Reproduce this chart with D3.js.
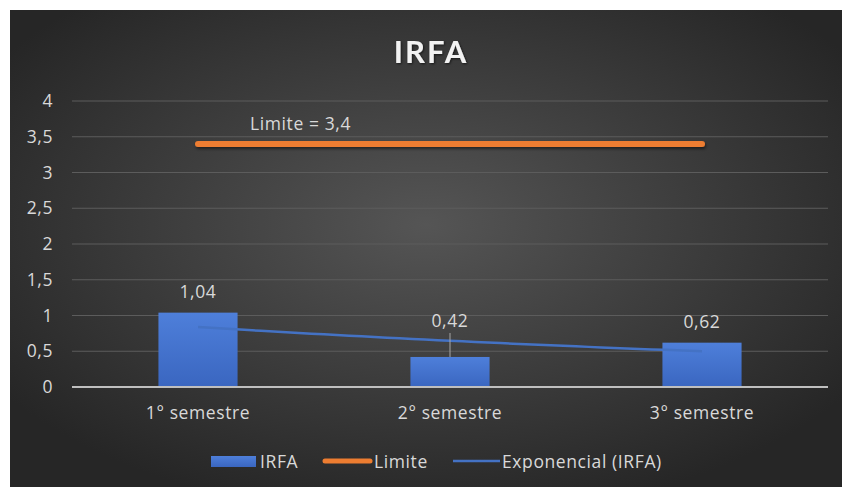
<!DOCTYPE html>
<html><head><meta charset="utf-8">
<script src="https://cdn.jsdelivr.net/npm/d3@7"></script>
<style>html,body{margin:0;padding:0;background:#fff;}svg{display:block;font-family:"Open Sans",Lato,sans-serif;}</style>
</head><body>
<svg id="c" width="842" height="487"></svg>
<script>
const categories = ["1° semestre", "2° semestre", "3° semestre"];
const irfaValues = [1.04, 0.42, 0.62];
const irfaLabels = ["1,04", "0,42", "0,62"];
const limitValue = 3.4;
const limitLabel = "Limite = 3,4";
const yTicks = [0, 0.5, 1, 1.5, 2, 2.5, 3, 3.5, 4];
const yTickLabels = ["0", "0,5", "1", "1,5", "2", "2,5", "3", "3,5", "4"];
const legendItems = ["IRFA", "Limite", "Exponencial (IRFA)"];
const title = "IRFA";

const FS = 17.5, LS = 0.6;
const svg = d3.select("#c");
const defs = svg.append("defs");
const bg = defs.append("radialGradient").attr("id","bg").attr("cx","50%").attr("cy","45%").attr("r","62%");
bg.append("stop").attr("offset","0%").attr("stop-color","#555555");
bg.append("stop").attr("offset","100%").attr("stop-color","#262626");
const bar = defs.append("linearGradient").attr("id","bar").attr("x1",0).attr("y1",0).attr("x2",0).attr("y2",1);
bar.append("stop").attr("offset","0%").attr("stop-color","#4e7fda");
bar.append("stop").attr("offset","100%").attr("stop-color","#3a66c0");
const sh = defs.append("filter").attr("id","sh").attr("filterUnits","userSpaceOnUse")
  .attr("x",0).attr("y",0).attr("width",842).attr("height",487);
sh.append("feDropShadow").attr("dx",1).attr("dy",2).attr("stdDeviation",1.5).attr("flood-color","#000").attr("flood-opacity",0.5);
const tsh = defs.append("filter").attr("id","tsh");
tsh.append("feDropShadow").attr("dx",1).attr("dy",1).attr("stdDeviation",1).attr("flood-color","#000").attr("flood-opacity",0.6);

svg.append("rect").attr("x",10).attr("y",10).attr("width",832).attr("height",477).attr("fill","url(#bg)");

const x = d3.scaleBand().domain(categories).range([72, 828]).paddingInner(0.686).paddingOuter(0.343);
const y = d3.scaleLinear().domain([0, 4]).range([387, 101]);

function txt(sel){ return sel.attr("fill","#d9d9d9").attr("font-size",FS).attr("letter-spacing",LS); }

// gridlines
svg.append("g").selectAll("line").data(yTicks.filter(d=>d>0)).join("line")
  .attr("x1",72).attr("x2",828).attr("y1",d=>y(d)).attr("y2",d=>y(d))
  .attr("stroke","#5c5c5c").attr("stroke-width",1);

// y tick labels
txt(svg.append("g").selectAll("text").data(yTicks).join("text")
  .attr("x",53).attr("y",d=>y(d)).attr("dy","0.35em").attr("text-anchor","end"))
  .text((d,i)=>yTickLabels[i]);

// bars
svg.append("g").selectAll("rect").data(irfaValues).join("rect")
  .attr("x",(d,i)=>x(categories[i])).attr("width",x.bandwidth())
  .attr("y",d=>y(d)).attr("height",d=>y(0)-y(d)).attr("fill","url(#bar)");

// axis line
svg.append("line").attr("x1",72).attr("x2",828).attr("y1",y(0)).attr("y2",y(0))
  .attr("stroke","#bfbfbf").attr("stroke-width",2);

// x labels
txt(svg.append("g").selectAll("text").data(categories).join("text")
  .attr("x",d=>x(d)+x.bandwidth()/2).attr("y",419).attr("text-anchor","middle"))
  .text(d=>d);

// exponential trend (least squares on ln(y))
const n = irfaValues.length;
const xs = irfaValues.map((d,i)=>i+1);
const ls = irfaValues.map(Math.log);
const mx = d3.mean(xs), ml = d3.mean(ls);
const b = d3.sum(xs.map((v,i)=>(v-mx)*(ls[i]-ml))) / d3.sum(xs.map(v=>(v-mx)*(v-mx)));
const a = ml - b*mx;
const tx = d3.scaleLinear().domain([1, n]).range([x(categories[0])+x.bandwidth()/2, x(categories[n-1])+x.bandwidth()/2]);
const trendPts = d3.range(0, 41).map(k => 1 + k*(n-1)/40);
svg.append("path").datum(trendPts)
  .attr("d", d3.line().x(t=>tx(t)).y(t=>y(Math.exp(a+b*t))))
  .attr("fill","none").attr("stroke","#4472c4").attr("stroke-width",2.5);

// limit line
svg.append("line")
  .attr("x1",x(categories[0])+x.bandwidth()/2).attr("x2",x(categories[2])+x.bandwidth()/2)
  .attr("y1",y(limitValue)).attr("y2",y(limitValue))
  .attr("stroke","#ed7d31").attr("stroke-width",6).attr("stroke-linecap","round").attr("filter","url(#sh)");
txt(svg.append("text").attr("x",250).attr("y",y(limitValue)-14)).text(limitLabel);

// data labels
const labelOffsets = [15, 30, 15];
txt(svg.append("g").selectAll("text").data(irfaValues).join("text")
  .attr("x",(d,i)=>x(categories[i])+x.bandwidth()/2).attr("y",(d,i)=>y(d)-labelOffsets[i])
  .attr("text-anchor","middle")).text((d,i)=>irfaLabels[i]);
// leader line for second label
svg.append("line").attr("x1",x(categories[1])+x.bandwidth()/2).attr("x2",x(categories[1])+x.bandwidth()/2)
  .attr("y1",y(irfaValues[1])-24).attr("y2",y(irfaValues[1]))
  .attr("stroke","#a6a6a6").attr("stroke-width",1);

// title
svg.append("text").attr("x",431).attr("y",63).attr("text-anchor","middle").attr("fill","#f2f2f2")
  .attr("font-family","Lato,sans-serif")
  .attr("font-size",31).attr("font-weight","bold").attr("letter-spacing",2).attr("filter","url(#tsh)").text(title);

// legend
const lg = svg.append("g");
lg.append("rect").attr("x",211).attr("y",456).attr("width",45).attr("height",11).attr("fill","url(#bar)");
txt(lg.append("text").attr("x",260).attr("y",468)).text(legendItems[0]);
lg.append("line").attr("x1",325).attr("x2",370).attr("y1",461).attr("y2",461).attr("stroke","#ed7d31").attr("stroke-width",5).attr("stroke-linecap","round");
txt(lg.append("text").attr("x",374).attr("y",468)).text(legendItems[1]);
lg.append("line").attr("x1",453).attr("x2",500).attr("y1",461).attr("y2",461).attr("stroke","#4472c4").attr("stroke-width",2.5);
txt(lg.append("text").attr("x",502).attr("y",468)).text(legendItems[2]);
</script>
</body></html>
